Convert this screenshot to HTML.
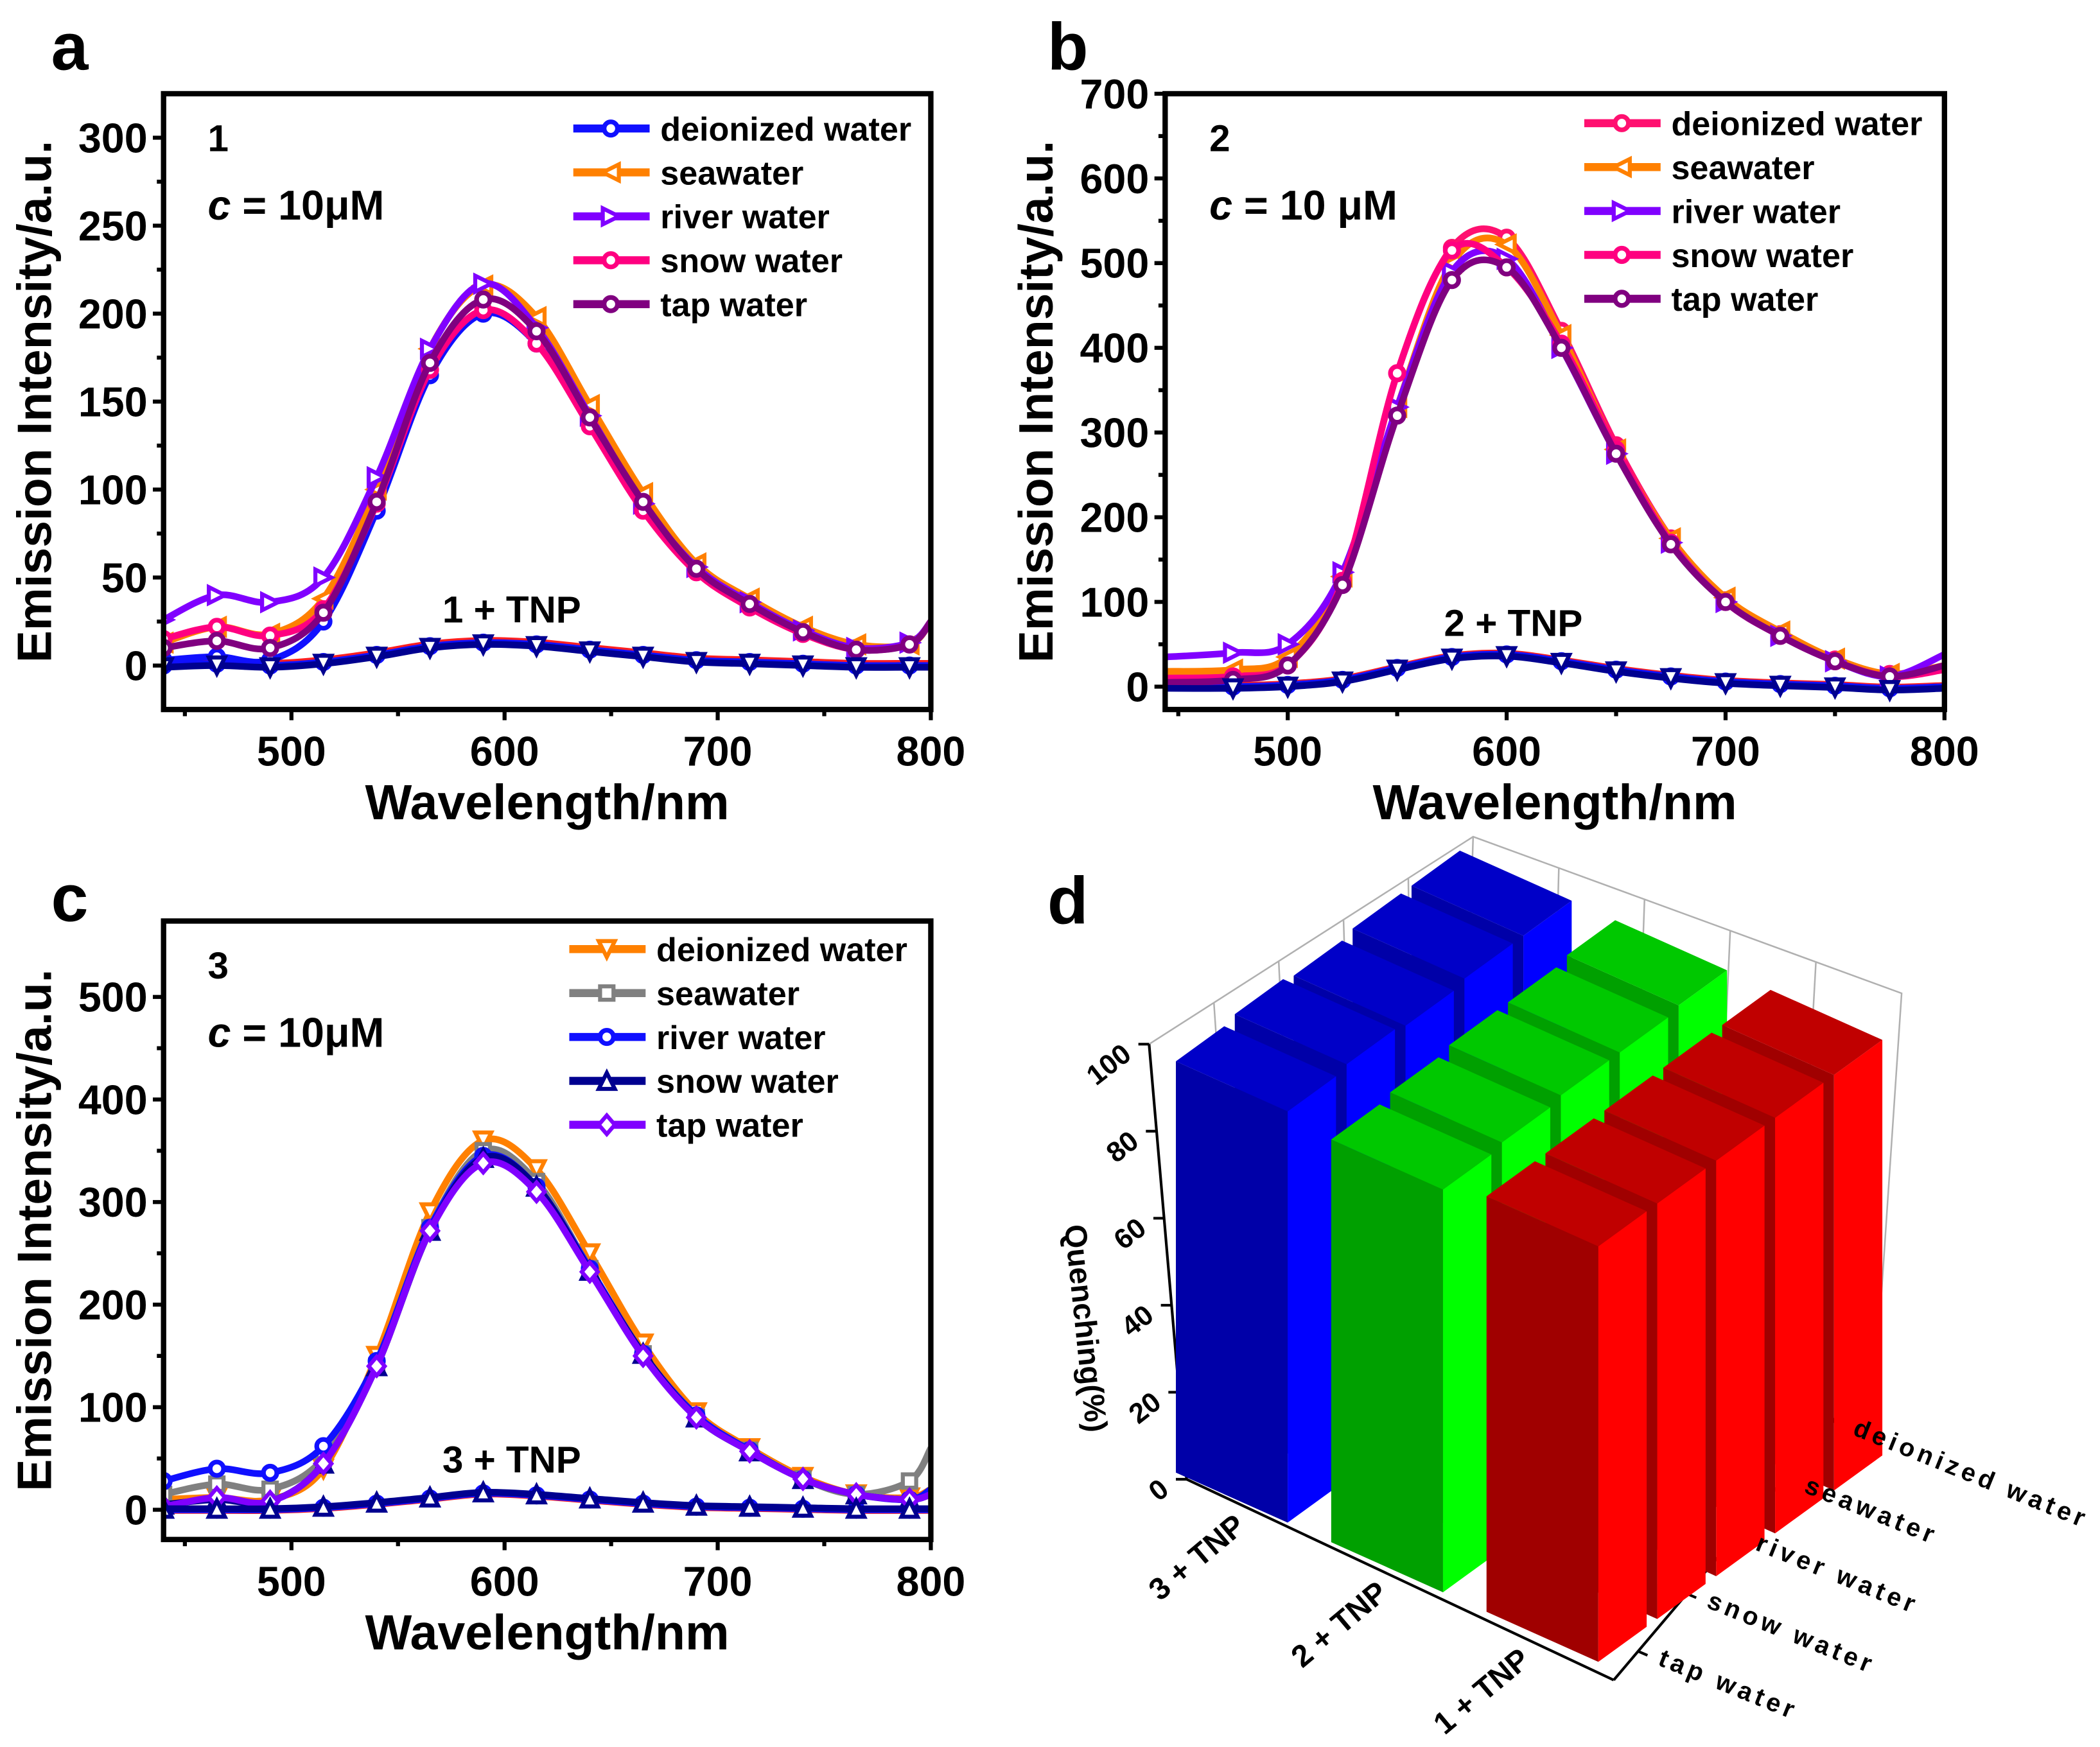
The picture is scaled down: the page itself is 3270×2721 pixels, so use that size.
<!DOCTYPE html>
<html><head><meta charset="utf-8">
<style>
html,body{margin:0;padding:0;background:#fff;}
svg{display:block;}
text{font-family:"Liberation Sans",Arial,sans-serif;font-weight:bold;}
</style></head>
<body>
<svg id="fig" width="3270" height="2721" viewBox="0 0 1568 1305" xmlns="http://www.w3.org/2000/svg">
<defs>
<clipPath id="clipA"><rect x="122" y="70" width="573" height="460"/></clipPath>
<clipPath id="clipB"><rect x="870" y="70" width="582" height="460"/></clipPath>
<clipPath id="clipC"><rect x="122" y="688" width="573" height="462"/></clipPath>
</defs>
</svg>
<script>
// ---------- Panel a data ----------
const aX = [440,465,490,515,540,565,590,615,640,665,690,715,740,765,790,800];
const aDeion = [3,5,3,25,88,165,200,183,138,92,55,35,20,10,12,25];
const aSea   = [13,22,18,38,100,180,216,198,148,98,58,38,22,12,12,25];
const aRiver = [26,40,36,50,107,180,217,192,142,92,56,36,20,10,13,25];
const aSnow  = [15,22,17,32,92,168,202,183,136,88,53,33,18,9,12,25];
const aTap   = [10,14,10,30,93,172,208,190,141,93,55,35,19,9,12,25];
const aTNP   = [0,1,0,2,6,11,13,12,9,6,3,2,1,0,0,0];
const aYTicks = [0,50,100,150,200,250,300];
const aXTicks = [500,600,700,800];
// ---------- Panel b data ----------
const bX = [444,475,500,525,550,575,600,625,650,675,700,725,750,775,800];
const bDeion = [12,15,30,125,370,518,530,420,285,175,102,62,32,15,25];
const bSea   = [18,20,35,130,330,500,522,415,280,175,105,65,33,15,25];
const bRiver = [35,40,50,135,330,490,505,400,275,170,100,60,30,12,38];
const bSnow  = [10,12,25,125,370,515,495,405,280,170,100,60,30,12,20];
const bTap   = [5,8,25,120,320,480,495,400,275,168,100,60,30,12,25];
const bTNP   = [0,0,2,8,22,35,38,30,20,12,6,3,1,-2,0];
const bYTicks = [0,100,200,300,400,500,600,700];
const bXTicks = [500,600,700,800];
// ---------- Panel c data ----------
const cX = [440,465,490,515,540,565,590,615,640,665,690,715,740,765,790,800];
const cDeion = [10,12,10,40,150,290,360,332,250,162,95,60,32,15,12,20];
const cSea   = [15,25,20,50,140,275,350,320,235,152,90,58,30,15,28,60];
const cRiver = [28,40,36,62,145,275,345,315,235,152,92,58,30,15,10,20];
const cSnow  = [5,10,8,45,140,272,343,315,233,152,90,57,30,15,10,15];
const cTap   = [3,12,8,45,140,272,338,310,232,150,90,57,30,15,10,15];
const cTNP   = [0,0,0,2,6,11,16,14,10,6,3,2,1,0,0,0];
const cYTicks = [0,100,200,300,400,500];
const cXTicks = [500,600,700,800];
// ---------- Panel d data ----------
const dGroups = ["3 + TNP","2 + TNP","1 + TNP"];
const dWaters = ["tap water","snow water","river water","seawater","deionized water"];
const dBlue  = [96,97,96,97,97];
const dGreen = [94,95,96,96,97];
const dRed   = [97,97,97,97,97];
const dZTicks = [0,20,40,60,80,100];

const NS="http://www.w3.org/2000/svg";
const svg=document.getElementById('fig');
function mk(tag,attrs,parent){const e=document.createElementNS(NS,tag);for(const k in attrs)e.setAttribute(k,attrs[k]);(parent||svg).appendChild(e);return e;}
function txt(s,attrs,parent){const e=mk('text',attrs,parent);e.textContent=s;return e;}

function crPath(pts){
  let d='M'+pts[0][0]+','+pts[0][1];
  for(let i=0;i<pts.length-1;i++){
    const p0=pts[Math.max(i-1,0)],p1=pts[i],p2=pts[i+1],p3=pts[Math.min(i+2,pts.length-1)];
    const c1=[p1[0]+(p2[0]-p0[0])/6,p1[1]+(p2[1]-p0[1])/6];
    const c2=[p2[0]-(p3[0]-p1[0])/6,p2[1]-(p3[1]-p1[1])/6];
    d+=' C'+c1[0]+','+c1[1]+' '+c2[0]+','+c2[1]+' '+p2[0]+','+p2[1];
  }
  return d;
}
function marker(g,type,x,y,color){
  const r=6;let e;
  if(type==='circle'){e=mk('circle',{cx:x,cy:y,r:r-1,fill:'#fff',stroke:color,'stroke-width':3.5},g);}
  else{
    let p;
    if(type==='left')p=[[x-r,y],[x+r,y-r],[x+r,y+r]];
    else if(type==='right')p=[[x+r,y],[x-r,y-r],[x-r,y+r]];
    else if(type==='down')p=[[x,y+r],[x-r,y-r],[x+r,y-r]];
    else if(type==='up')p=[[x,y-r],[x-r,y+r],[x+r,y+r]];
    else if(type==='square')p=[[x-r+1,y-r+1],[x+r-1,y-r+1],[x+r-1,y+r-1],[x-r+1,y+r-1]];
    else p=[[x,y-r-1],[x+r,y],[x,y+r+1],[x-r,y]];
    e=mk('polygon',{points:p.map(q=>q.join(',')).join(' '),fill:'#fff',stroke:color,'stroke-width':3},g);
  }
  
  
}

function panel(cfg){
  const g=mk('g',{});
  
  
  const xs=v=>cfg.x0+(v-cfg.xmin)/(cfg.xmax-cfg.xmin)*(cfg.x1-cfg.x0);
  const ys=v=>cfg.y1-(v-cfg.ymin)/(cfg.ymax-cfg.ymin)*(cfg.y1-cfg.y0);
  const sg=mk('g',{'clip-path':'url(#'+cfg.clip+')'},g);
  cfg.series.forEach(s=>{
    const pts=s.y.map((v,i)=>[xs(s.x[i]),ys(v)]);
    const p=mk('path',{d:crPath(pts),fill:'none',stroke:s.color,'stroke-width':s.w||5,'stroke-linejoin':'round'},sg);
    
    
    if(s.m){s.y.forEach((v,i)=>{if(s.x[i]%25===15||s.x[i]%25===0){if(s.x[i]>=cfg.mStart&&s.x[i]<=795)marker(sg,s.m,xs(s.x[i]),ys(v),s.color);}});}
  });
  const fr=mk('rect',{x:cfg.x0,y:cfg.y0,width:cfg.x1-cfg.x0,height:cfg.y1-cfg.y0,fill:'none',stroke:'#000','stroke-width':4},g);
  
  
  cfg.yt.forEach((v,i)=>{
    const y=ys(v);
    mk('line',{x1:cfg.x0-8,x2:cfg.x0,y1:y,y2:y,stroke:'#000','stroke-width':3},g);
    const t=txt(String(v),{x:cfg.x0-12,y:y+11,'font-size':31,'text-anchor':'end'},g);
    
    
    if(i<cfg.yt.length-1){const ym=ys((v+cfg.yt[i+1])/2);mk('line',{x1:cfg.x0-5,x2:cfg.x0,y1:ym,y2:ym,stroke:'#000','stroke-width':3},g);}
  });
  {const ym=ys(cfg.yt[0]-(cfg.yt[1]-cfg.yt[0])/2); if(ym<cfg.y1) mk('line',{x1:cfg.x0-5,x2:cfg.x0,y1:ym,y2:ym,stroke:'#000','stroke-width':3},g);}
  cfg.xt.forEach(v=>{
    const x=xs(v);
    mk('line',{x1:x,x2:x,y1:cfg.y1,y2:cfg.y1+8,stroke:'#000','stroke-width':3},g);
    const xm=xs(v-50); if(xm>cfg.x0) mk('line',{x1:xm,x2:xm,y1:cfg.y1,y2:cfg.y1+5,stroke:'#000','stroke-width':3},g);
    const t=txt(String(v),{x:x,y:cfg.y1+42,'font-size':31,'text-anchor':'middle'},g);
    
    
  });
  const xt=txt('Wavelength/nm',{x:(cfg.x0+cfg.x1)/2,y:cfg.y1+82,'font-size':37,'text-anchor':'middle'},g);
  
  
  const yt=txt('Emission Intensity/a.u.',{x:0,y:0,'font-size':36,'text-anchor':'middle',transform:'translate('+(cfg.x0-84)+','+((cfg.y0+cfg.y1)/2)+') rotate(-90)'},g);
  
  
  cfg.series.filter(s=>s.label).forEach((s,i)=>{
    const ly=cfg.ly+i*cfg.lstep;
    const lg=mk('g',{},g);
    
    
    mk('line',{x1:cfg.lx,x2:cfg.lx+57,y1:ly,y2:ly,stroke:s.color,'stroke-width':6},lg);
    marker(lg,s.m,cfg.lx+28,ly,s.color);
    txt(s.label,{x:cfg.lx+65,y:ly+9,'font-size':25},lg);
  });
  const n=txt(cfg.num,{x:cfg.x0+33,y:cfg.y0+43,'font-size':28},g);
  
  
  const c=mk('text',{x:cfg.x0+33,y:cfg.y0+94,'font-size':31},g);
  
  
  const ci=mk('tspan',{'font-style':'italic'},c);ci.textContent='c';
  const cr=mk('tspan',{},c);cr.textContent=cfg.conc;
  const tn=txt(cfg.num+' + TNP',{x:cfg.tnpX,y:cfg.tnpY,'font-size':28,'text-anchor':'middle'},g);
  
  
  const L=txt(cfg.letter,{x:cfg.lettX,y:cfg.lettY,'font-size':50},g);
  
  
}

panel({name:'panel-a',clip:'clipA',x0:122,x1:695,y0:70,y1:530,xmin:440,xmax:800,ymin:-25,ymax:325,yt:aYTicks,xt:aXTicks,mStart:440,
 series:[
  {id:'tnp-red',x:aX,y:aTNP.map(v=>v+2),color:'#ff2020',w:3},
  {id:'tnp-blue',x:aX,y:aTNP,color:'#1010ff',m:'circle'},
  {id:'deionized-water',x:aX,y:aDeion,color:'#1010ff',m:'circle',label:'deionized water'},
  {id:'seawater',x:aX,y:aSea,color:'#ff8000',m:'left',label:'seawater'},
  {id:'river-water',x:aX,y:aRiver,color:'#8000ff',m:'right',label:'river water'},
  {id:'snow-water',x:aX,y:aSnow,color:'#ff0080',m:'circle',label:'snow water'},
  {id:'tap-water',x:aX,y:aTap,color:'#800080',m:'circle',label:'tap water'},
  {id:'tnp-navy',x:aX,y:aTNP.map(v=>v-1),color:'#000090',m:'down'}
 ],lx:428,ly:96,lstep:32.8,num:'1',conc:' = 10μM',tnpX:382,tnpY:465,letter:'a',lettX:38,lettY:52});

panel({name:'panel-b',clip:'clipB',x0:870,x1:1452,y0:70,y1:530,xmin:444,xmax:800,ymin:-27,ymax:700,yt:bYTicks,xt:bXTicks,mStart:470,
 series:[
  {id:'tnp-red',x:bX,y:bTNP.map(v=>v+3),color:'#ff2020',w:3},
  {id:'tnp-blue',x:bX,y:bTNP,color:'#1010ff',m:'circle'},
  {id:'deionized-water',x:bX,y:bDeion,color:'#ff1070',m:'circle',label:'deionized water'},
  {id:'seawater',x:bX,y:bSea,color:'#ff8000',m:'left',label:'seawater'},
  {id:'river-water',x:bX,y:bRiver,color:'#8000ff',m:'right',label:'river water'},
  {id:'snow-water',x:bX,y:bSnow,color:'#ff0080',m:'circle',label:'snow water'},
  {id:'tap-water',x:bX,y:bTap,color:'#800080',m:'circle',label:'tap water'},
  {id:'tnp-navy',x:bX,y:bTNP.map(v=>v-2),color:'#000090',m:'down'}
 ],lx:1183,ly:92,lstep:32.8,num:'2',conc:' = 10 μM',tnpX:1130,tnpY:475,letter:'b',lettX:782,lettY:52});

panel({name:'panel-c',clip:'clipC',x0:122,x1:695,y0:688,y1:1150,xmin:440,xmax:800,ymin:-29,ymax:574,yt:cYTicks,xt:cXTicks,mStart:440,
 series:[
  {id:'tnp-red',x:cX,y:cTNP.map(v=>v-2),color:'#ff2020',w:3},
  {id:'tnp-blue',x:cX,y:cTNP,color:'#1010ff',m:'circle'},
  {id:'deionized-water',x:cX,y:cDeion,color:'#ff8000',m:'down',label:'deionized water'},
  {id:'seawater',x:cX,y:cSea,color:'#808080',m:'square',label:'seawater'},
  {id:'river-water',x:cX,y:cRiver,color:'#1010ff',m:'circle',label:'river water'},
  {id:'snow-water',x:cX,y:cSnow,color:'#000090',m:'up',label:'snow water'},
  {id:'tap-water',x:cX,y:cTap,color:'#8000ff',m:'diamond',label:'tap water'},
  {id:'tnp-navy',x:cX,y:cTNP.map(v=>v+1),color:'#000090',m:'up'}
 ],lx:425,ly:709,lstep:32.8,num:'3',conc:' = 10μM',tnpX:382,tnpY:1100,letter:'c',lettX:38,lettY:688});

// ---------- Panel d (3D bars) ----------
(function(){
  const g=mk('g',{});
  
  
  const O=[878,1100],U=[116,52],V=[44,-32],Zs=3.2;
  const P=(u,v,z)=>[O[0]+u*U[0]+v*V[0],O[1]+u*U[1]+v*V[1]-z*Zs];
  const poly=(pts,fill,par)=>mk('polygon',{points:pts.map(p=>p[0].toFixed(1)+','+p[1].toFixed(1)).join(' '),fill:fill},par);
  const wall=mk('g',{stroke:'#b0b0b0','stroke-width':1.2,fill:'none'},g);
  
  
  mk('polyline',{points:'858,780 1100,625 1420,742 1400,1040'},wall);
  mk('line',{x1:1100,y1:625,x2:1090,y2:940},wall);
  [0.2,0.4,0.6,0.8].forEach(f=>{
    mk('line',{x1:858+242*f,y1:780-155*f,x2:886+212*f,y2:1105-165*f},wall);
    mk('line',{x1:1100+320*f,y1:625+117*f,x2:1095+305*f,y2:940+100*f},wall);
  });
  const ax=mk('g',{stroke:'#000','stroke-width':2,fill:'none'},g);
  
  
  mk('line',{x1:886,y1:1105,x2:858,y2:780},ax);
  mk('line',{x1:886,y1:1105,x2:1205,y2:1255},ax);
  mk('line',{x1:1205,y1:1255,x2:1387,y2:1040},ax);
  dZTicks.forEach(v=>{
    const f=v/100, x=886-28*f, y=1105-325*f;
    mk('line',{x1:x-8,y1:y,x2:x,y2:y},ax);
  });
  const groups=[[dBlue,'#0000a8','#0000ff','#0000c8'],[dGreen,'#00a000','#00ff00','#00c800'],[dRed,'#a00000','#ff0000','#c00000']];
  const w=0.72,dd=0.82;
  for(let v=dWaters.length-1;v>=0;v--){
    groups.forEach((gr,u)=>{
      const h=gr[0][v];
      const bg=mk('g',{},g);
      
      
      poly([P(u,v,0),P(u+w,v,0),P(u+w,v,h),P(u,v,h)],gr[1],bg);
      poly([P(u+w,v,0),P(u+w,v+dd,0),P(u+w,v+dd,h),P(u+w,v,h)],gr[2],bg);
      poly([P(u,v,h),P(u+w,v,h),P(u+w,v+dd,h),P(u,v+dd,h)],gr[3],bg);
    });
  }
  dZTicks.forEach(v=>{
    const f=v/100, x=886-28*f, y=1105-325*f;
    const t=txt(String(v),{x:0,y:0,'font-size':21,'text-anchor':'end',transform:'translate('+(x-12)+','+(y+10)+') rotate(-38)'},g);
    
    
  });
  const zt=txt('Quenching(%)',{x:0,y:0,'font-size':23,'text-anchor':'middle',transform:'translate(803,993) rotate(84)'},g);
  
  
  dGroups.forEach((s,i)=>{
    const f=(i+0.5)/3, x=886+319*f, y=1105+150*f;
    const t=txt(s,{x:0,y:0,'font-size':23,'text-anchor':'end',transform:'translate('+(x-8)+','+(y+12)+') rotate(-40)'},g);
    
    
  });
  dWaters.forEach((s,i)=>{
    const f=(i+0.5)/5, x=1205+182*f, y=1255-215*f;
    mk('line',{x1:x,y1:y,x2:x+7,y2:y+3},ax);
    const t=txt(s,{x:0,y:0,'font-size':19,'letter-spacing':'3','text-anchor':'start',transform:'translate('+(x+14)+','+(y+10)+') rotate(22)'},g);
    
    
  });
  const L=txt('d',{x:782,y:690,'font-size':50},g);
  
  
})();
</script>
</body></html>
